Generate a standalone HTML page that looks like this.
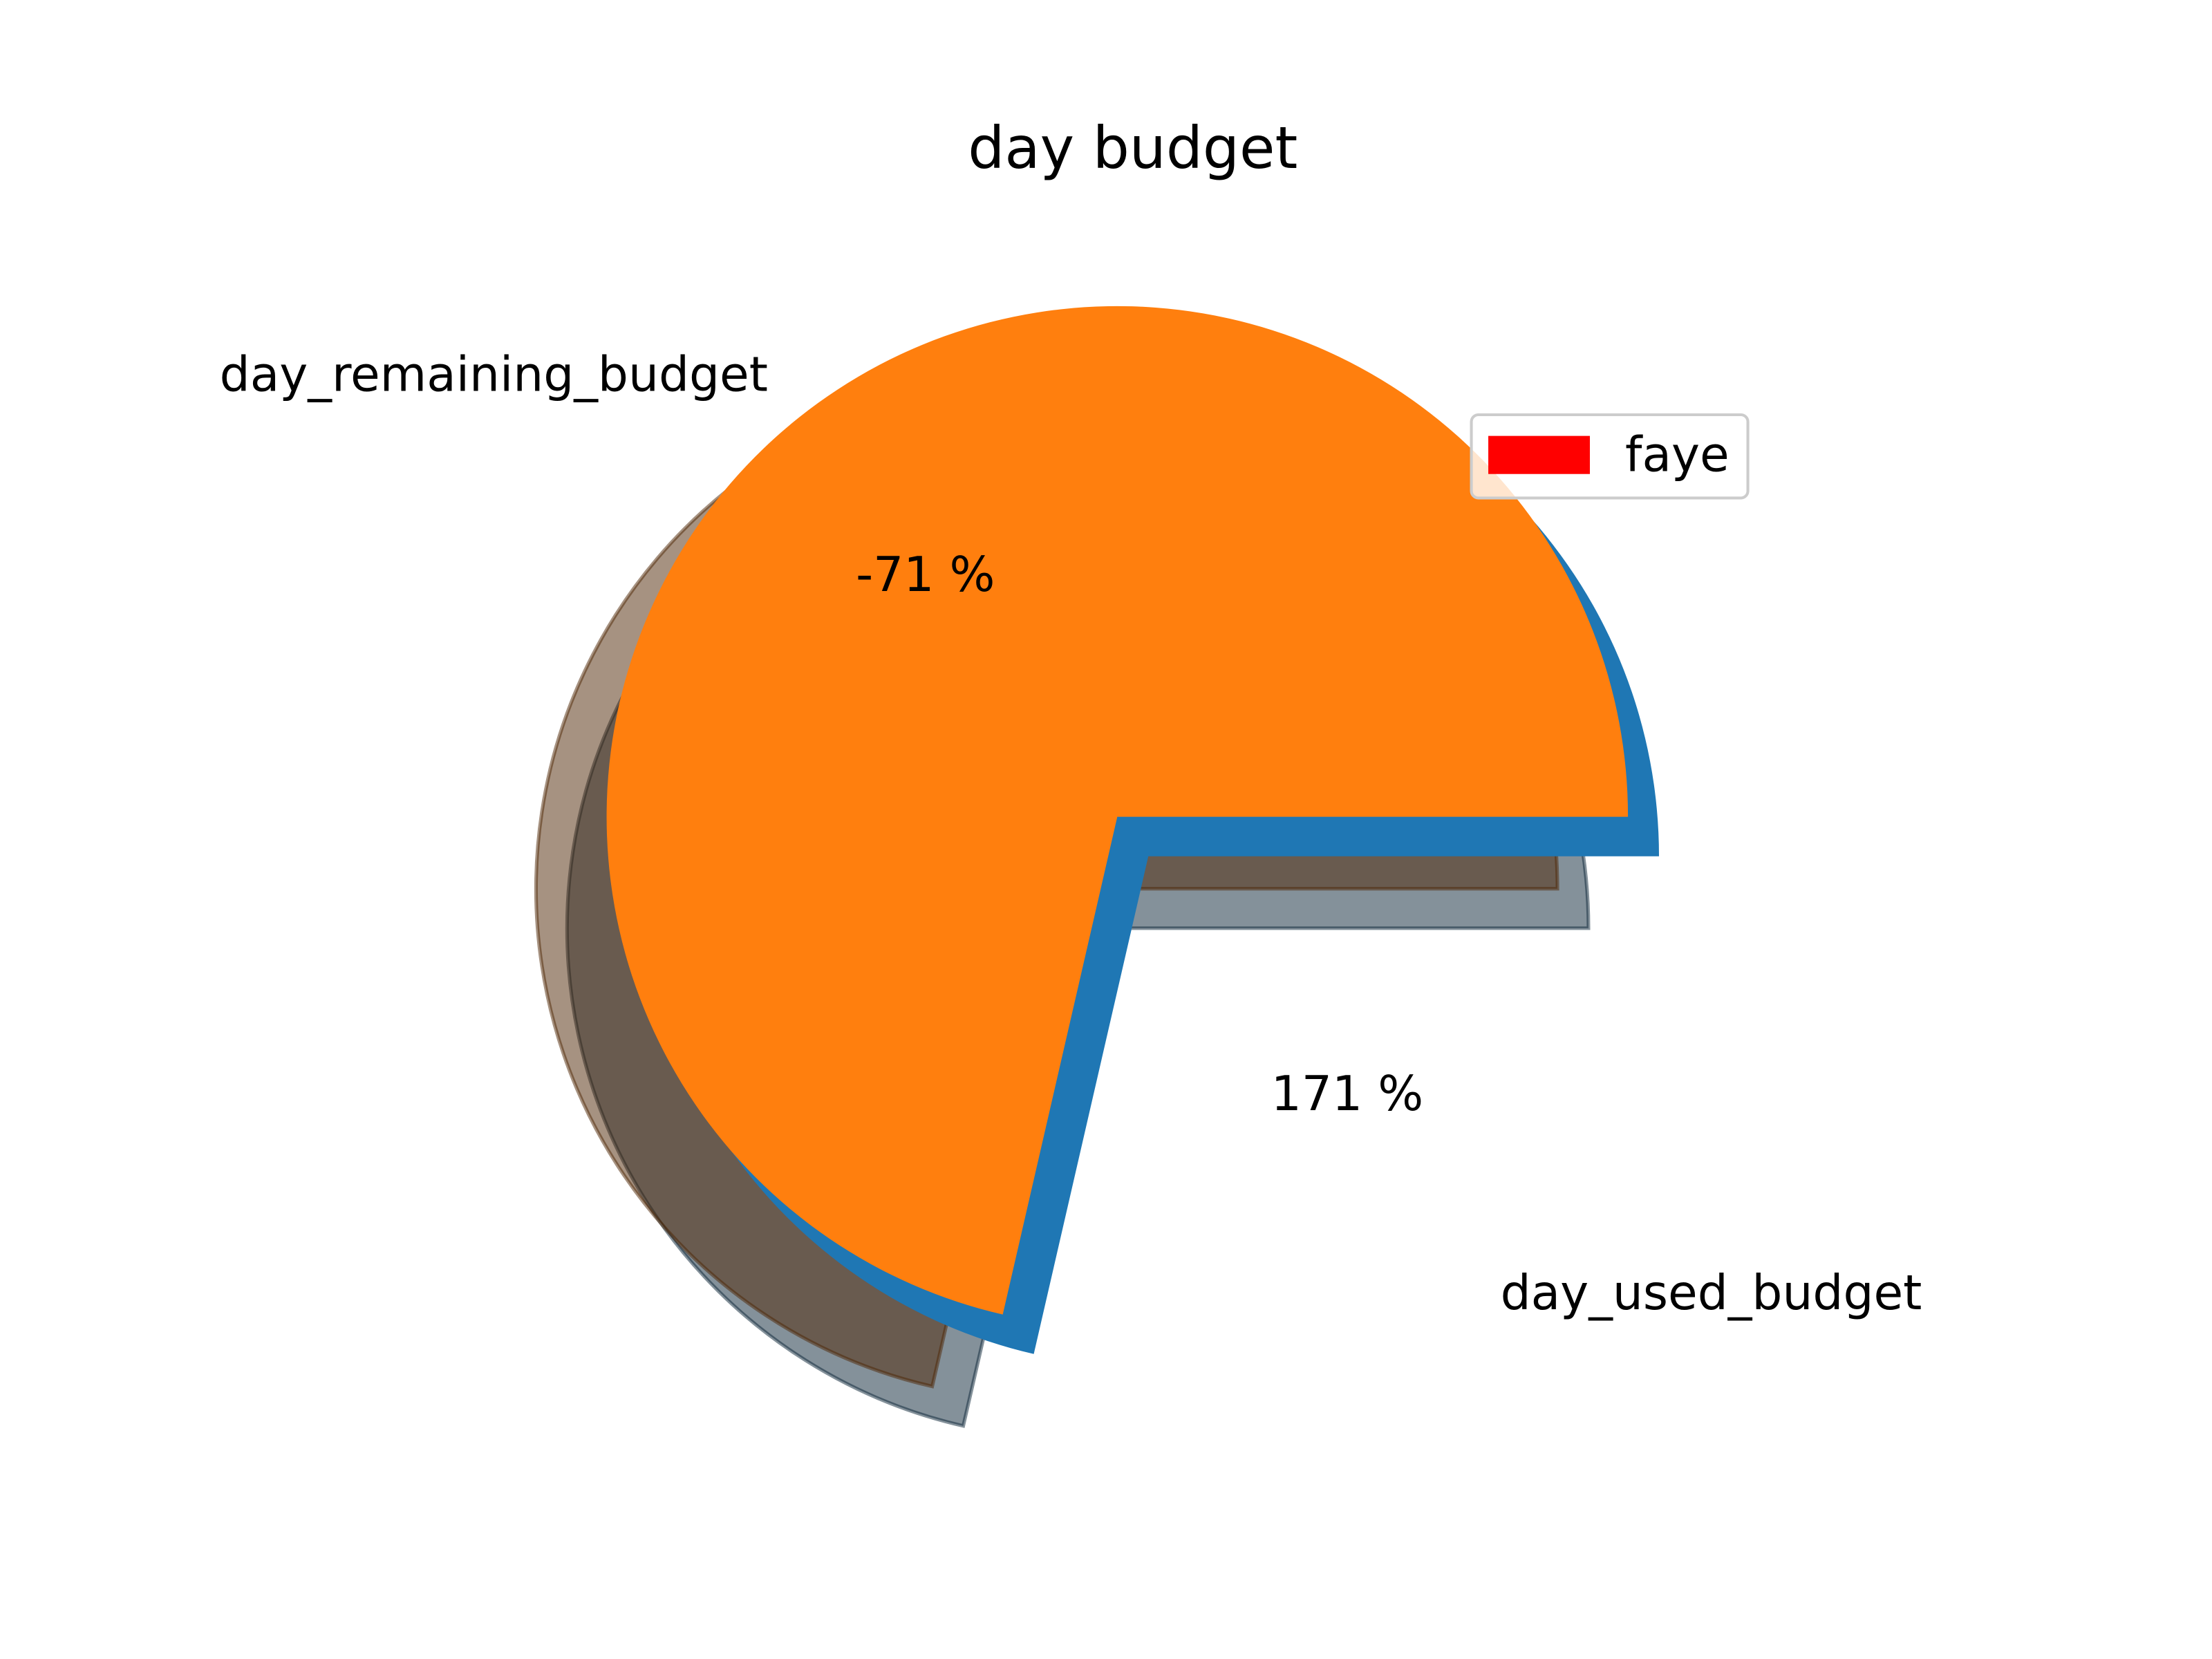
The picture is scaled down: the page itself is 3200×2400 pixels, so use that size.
<!DOCTYPE html>
<html><head><meta charset="utf-8"><style>
html,body{margin:0;padding:0;background:#fff;}
svg{display:block;}
text{font-family:"DejaVu Sans","Liberation Sans",sans-serif;fill:#000;}
</style></head><body>
<svg id="chart" width="3200" height="2400" viewBox="0 0 1568 1176" xmlns="http://www.w3.org/2000/svg">
<rect width="1568" height="1176" fill="#fff"/>
<text x="803" y="119" font-size="41" text-anchor="middle">day budget</text>
<g id="pie"></g>
<g>
<rect x="1043" y="294" width="196" height="59" rx="5" fill="#fff" fill-opacity="0.8" stroke="#ccc" stroke-width="2"/>
<rect x="1055" y="309" width="72" height="27" fill="#ff0000"/>
<text x="1152" y="334" font-size="34">faye</text>
</g>
</svg>
<script>
const labels = ["day_remaining_budget", "day_used_budget"];
const pcts = [-71.4, 171.4];
const pctText = ["-71 %", "171 %"];
const colors = ["#ff7f0e", "#1f77b4"];

const NS = "http://www.w3.org/2000/svg";
const pie = document.getElementById("pie");
const cx = 792, cy = 579, R = 362;
const span = 360 * Math.abs(pcts[0]) / 100;
const blueOff = [22, 28], shadowOff = [-50, 51];

function wedge(dx, dy) {
  const a = span * Math.PI / 180;
  const x0 = cx + dx, y0 = cy + dy;
  const sx = x0 + R, sy = y0;
  const ex = x0 + R * Math.cos(a), ey = y0 - R * Math.sin(a);
  const large = span > 180 ? 1 : 0;
  return `M${x0},${y0} L${sx},${sy} A${R},${R} 0 ${large} 0 ${ex},${ey} Z`;
}
function dark(hex) {
  const n = parseInt(hex.slice(1), 16);
  const r = Math.round(((n >> 16) & 255) * 0.3), g = Math.round(((n >> 8) & 255) * 0.3), b = Math.round((n & 255) * 0.3);
  return `rgb(${r},${g},${b})`;
}
function addPath(d, fill, opacity, stroke, name) {
  const p = document.createElementNS(NS, "path");
  p.setAttribute("d", d);
  p.setAttribute("fill", fill);
  p.setAttribute("fill-opacity", opacity);
  if (stroke) { p.setAttribute("stroke", stroke); p.setAttribute("stroke-opacity", "0.5"); p.setAttribute("stroke-width", "2.5"); }
  
  
  pie.appendChild(p);
}
addPath(wedge(shadowOff[0] + blueOff[0], shadowOff[1] + blueOff[1]), dark(colors[1]), 0.5, dark(colors[1]), "shadow-used");
addPath(wedge(shadowOff[0], shadowOff[1]), dark(colors[0]), 0.5, dark(colors[0]), "shadow-remaining");
addPath(wedge(blueOff[0], blueOff[1]), colors[1], 1, null, "slice-used");
addPath(wedge(0, 0), colors[0], 1, null, "slice-remaining");

const textPos = [[350, 277, 656, 419], [1213, 928, 955, 787]];
labels.forEach((l, i) => {
  const t = document.createElementNS(NS, "text");
  t.setAttribute("x", textPos[i][0]); t.setAttribute("y", textPos[i][1]);
  t.setAttribute("font-size", "34"); t.setAttribute("text-anchor", "middle");
  t.textContent = l;
  
  
  pie.appendChild(t);
  const p = document.createElementNS(NS, "text");
  p.setAttribute("x", textPos[i][2]); p.setAttribute("y", textPos[i][3]);
  p.setAttribute("font-size", "34"); p.setAttribute("text-anchor", "middle");
  p.textContent = pctText[i];
  
  
  pie.appendChild(p);
});
</script>
</body></html>
